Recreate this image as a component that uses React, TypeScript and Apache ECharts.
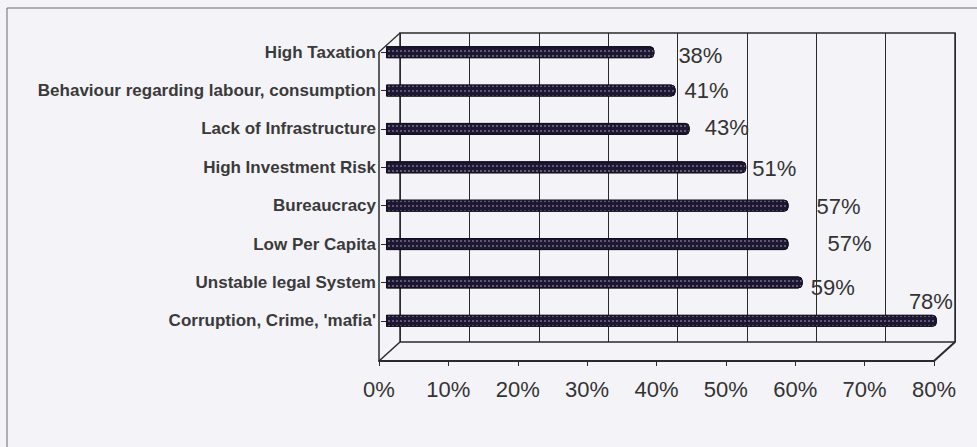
import React, { useEffect, useRef } from "react";
import * as echarts from "echarts";

// ---------- data ----------
const categories = [
  "High Taxation",
  "Behaviour regarding labour, consumption",
  "Lack of Infrastructure",
  "High Investment Risk",
  "Bureaucracy",
  "Low Per Capita",
  "Unstable legal System",
  "Corruption, Crime, 'mafia'",
];
const values = [38, 41, 43, 51, 57, 57, 59, 78];
const axisMin = 0;
const axisMax = 80;
const axisStep = 10;

// ---------- layout (pixels) ----------
const W = 977;
const H = 447;
const FRONT_X0 = 379; // front edge of floor, 0%
const FRONT_X1 = 934; // front edge of floor, 80%
const FRONT_Y = 361;
const DEPTH_X = 21;
const DEPTH_Y = 19;
const WALL_TOP = 33;
const BAR_X0 = 386;
const BAR_X1 = 951;
const BAR_TOP = 33;
const BAR_BOTTOM = 340;
// label nudges (dx, dy) relative to the bar end, as placed in the original
const labelNudges = [
  [19, 3],
  [4, 0],
  [10, -1],
  [1, 1],
  [23, 1],
  [34, -1],
  [3, 5],
  [-33, -19],
];

const FONT = "'Liberation Sans', Arial, Helvetica, sans-serif";
const INK = "#2a2a2a";

export default function App() {
  const ref = useRef<HTMLDivElement>(null);

  useEffect(() => {
    if (!ref.current) return;
    const chart = echarts.init(ref.current, undefined, { renderer: "svg" });

    const backX0 = FRONT_X0 + DEPTH_X;
    const backX1 = FRONT_X1 + DEPTH_X;
    const backY = FRONT_Y - DEPTH_Y;

    const barData = values.map((v, i) => ({
      value: v,
      label: { offset: labelNudges[i] },
    }));

    chart.setOption({
      animation: false,
      backgroundColor: "#f4f3f8",
      textStyle: { fontFamily: FONT },
      grid: [
        // bars
        { left: BAR_X0, right: W - BAR_X1, top: BAR_TOP, bottom: H - BAR_BOTTOM },
        // front floor edge with the percentage axis
        { left: FRONT_X0, right: W - FRONT_X1, top: FRONT_Y - 20, bottom: H - FRONT_Y },
        // back wall
        {
          left: backX0,
          right: W - backX1,
          top: WALL_TOP,
          bottom: H - backY,
          show: true,
          borderColor: INK,
          borderWidth: 1.5,
          backgroundColor: "transparent",
        },
      ],
      xAxis: [
        { type: "value", gridIndex: 0, min: axisMin, max: axisMax, interval: axisStep, show: false },
        {
          type: "value",
          gridIndex: 1,
          min: axisMin,
          max: axisMax,
          interval: axisStep,
          axisLine: { show: true, lineStyle: { color: INK, width: 2 } },
          axisTick: { show: true, length: 5, lineStyle: { color: INK } },
          splitLine: { show: false },
          axisLabel: {
            formatter: "{value}%",
            fontSize: 22,
            color: "#333",
            fontFamily: FONT,
            margin: 17,
          },
        },
        {
          type: "value",
          gridIndex: 2,
          min: axisMin,
          max: axisMax,
          interval: axisStep,
          axisLine: { show: false },
          axisTick: { show: false },
          axisLabel: { show: false },
          splitLine: { show: true, lineStyle: { color: INK, width: 1 } },
        },
      ],
      yAxis: [
        {
          type: "category",
          gridIndex: 0,
          data: categories,
          inverse: true,
          offset: BAR_X0 - FRONT_X0,
          axisLine: { show: false },
          axisTick: { show: true, alignWithLabel: true, length: 5, lineStyle: { color: INK } },
          axisLabel: {
            fontSize: 17,
            fontWeight: "bold",
            color: "#3a3a3a",
            fontFamily: FONT,
            margin: 3,
          },
        },
        { type: "value", gridIndex: 1, show: false },
        { type: "value", gridIndex: 2, show: false },
      ],
      series: [
        {
          type: "bar",
          xAxisIndex: 0,
          yAxisIndex: 0,
          data: barData,
          barWidth: 12,
          itemStyle: {
            color: "#1e1733",
            borderColor: "#120e1e",
            borderWidth: 1,
            borderRadius: [0, 4, 4, 0],
            decal: {
              symbol: "rect",
              symbolSize: 0.7,
              color: "rgba(205,200,228,0.7)",
              dashArrayX: [2, 1.5],
              dashArrayY: [1.5, 3],
              rotation: 0,
            },
          },
          label: {
            show: true,
            position: "right",
            distance: 5,
            formatter: "{c}%",
            fontSize: 22,
            color: "#333",
            fontFamily: FONT,
          },
        },
      ],
      graphic: [
        // outer frame
        {
          type: "rect",
          shape: { x: 7, y: 8, width: 1100, height: 600 },
          style: { fill: "none", stroke: "#6a6a6a", lineWidth: 1 },
          silent: true,
        },
        // left wall front edge
        {
          type: "line",
          shape: { x1: FRONT_X0, y1: WALL_TOP + DEPTH_Y, x2: FRONT_X0, y2: FRONT_Y },
          style: { stroke: INK, lineWidth: 1.5 },
          silent: true,
        },
        // left wall top edge
        {
          type: "line",
          shape: { x1: FRONT_X0, y1: WALL_TOP + DEPTH_Y, x2: backX0, y2: WALL_TOP },
          style: { stroke: INK, lineWidth: 1.2 },
          silent: true,
        },
        // floor left edge
        {
          type: "line",
          shape: { x1: FRONT_X0, y1: FRONT_Y, x2: backX0, y2: backY },
          style: { stroke: INK, lineWidth: 1.5 },
          silent: true,
        },
        // floor right edge
        {
          type: "line",
          shape: { x1: FRONT_X1, y1: FRONT_Y, x2: backX1, y2: backY },
          style: { stroke: INK, lineWidth: 2 },
          silent: true,
        },
      ],
    });

    return () => chart.dispose();
  }, []);

  return (
    <div
      ref={ref}
      style={{ position: "fixed", left: 0, top: 0, width: W, height: H }}
    />
  );
}
